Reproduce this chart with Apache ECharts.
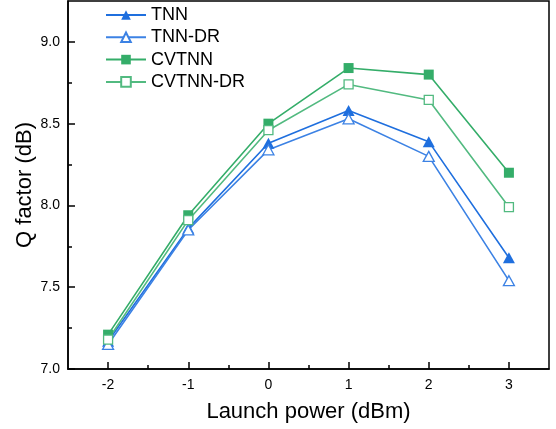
<!DOCTYPE html>
<html>
<head>
<meta charset="utf-8">
<script src="https://cdn.jsdelivr.net/npm/echarts@6/dist/echarts.min.js"></script>
<style>html,body{margin:0;padding:0;background:#fff}#c{width:556px;height:429px}</style>
</head>
<body>
<div id="c"></div>
<script>
const launchPower = [-2, -1, 0, 1, 2, 3];
const tnn      = [7.17, 7.86, 8.38, 8.58, 8.39, 7.68];
const tnnDR    = [7.15, 7.85, 8.34, 8.53, 8.30, 7.54];
const cvtnn    = [7.21, 7.94, 8.50, 8.84, 8.80, 8.20];
const cvtnnDR  = [7.18, 7.91, 8.46, 8.74, 8.645, 7.99];
const xMajor = [-2, -1, 0, 1, 2, 3];
const xMinor = [-1.5, -0.5, 0.5, 1.5, 2.5];
const yMajor = [7.0, 7.5, 8.0, 8.5, 9.0];
const yMinor = [7.25, 7.75, 8.25, 8.75];

const BLUE = '#1F6FDE', BLUE2 = '#3C82E4', GREEN = '#34AD69', GREEN2 = '#52BA80';
const FONT = 'Liberation Sans, Arial, sans-serif';
const pair = (ys) => launchPower.map((x, i) => [x, ys[i]]);

const chart = echarts.init(document.getElementById('c'), null, {renderer: 'canvas'});
const xBase = {type: 'value', min: -2.5, max: 3.5, splitLine: {show: false}};
const yBase = {type: 'value', min: 7.0, max: 9.25, splitLine: {show: false}};
const tickAxis = (base, pos, vals, len) => Object.assign({}, base, {
  position: pos,
  axisLine: {show: false, onZero: false},
  axisTick: {show: true, inside: true, length: len, customValues: vals, lineStyle: {color: '#000', width: 1.5}},
  axisLabel: {show: false}
});
chart.setOption({
  animation: false,
  backgroundColor: '#fff',
  grid: {left: 68, right: 7, top: 1, bottom: 60, show: true, borderColor: '#000', borderWidth: 1.5, backgroundColor: 'transparent'},
  legend: {
    orient: 'vertical', left: 105, top: 6, padding: 0, itemWidth: 40, itemHeight: 12, itemGap: 4.3,
    textStyle: {fontFamily: FONT, fontSize: 18, color: '#000', lineHeight: 18},
    data: ['TNN', 'TNN-DR', 'CVTNN', 'CVTNN-DR']
  },
  xAxis: [
    Object.assign({}, xBase, {
      name: 'Launch power (dBm)', nameLocation: 'middle', nameGap: 32, nameMoveOverlap: false,
      nameTextStyle: {fontFamily: FONT, fontSize: 22, color: '#000'},
      axisLine: {show: true, onZero: false, lineStyle: {color: '#000', width: 1.5}},
      axisTick: {show: false},
      axisLabel: {customValues: xMajor, margin: 9, fontFamily: FONT, fontSize: 14, color: '#000', formatter: v => String(v)}
    }),
    tickAxis(xBase, 'bottom', xMajor, 7),
    tickAxis(xBase, 'bottom', xMinor, 4)
  ],
  yAxis: [
    Object.assign({}, yBase, {
      name: 'Q factor (dB)', nameLocation: 'middle', nameGap: 32, nameMoveOverlap: false,
      nameTextStyle: {fontFamily: FONT, fontSize: 22, color: '#000'},
      axisLine: {show: true, onZero: false, lineStyle: {color: '#000', width: 1.5}},
      axisTick: {show: false},
      axisLabel: {customValues: yMajor, margin: 8, fontFamily: FONT, fontSize: 14, color: '#000', formatter: v => v.toFixed(1)}
    }),
    tickAxis(yBase, 'left', yMajor, 7),
    tickAxis(yBase, 'left', yMinor, 4)
  ],
  series: [
    {name: 'TNN', type: 'line', data: pair(tnn), symbol: 'triangle', symbolSize: [12, 11],
     lineStyle: {color: BLUE, width: 1.6}, itemStyle: {color: BLUE, borderColor: BLUE, borderWidth: 0}, z: 3},
    {name: 'TNN-DR', type: 'line', data: pair(tnnDR), symbol: 'triangle', symbolSize: [11, 10],
     lineStyle: {color: BLUE2, width: 1.6}, itemStyle: {color: '#fff', borderColor: BLUE2, borderWidth: 1.3}, z: 3},
    {name: 'CVTNN', type: 'line', data: pair(cvtnn), symbol: 'rect', symbolSize: 10,
     lineStyle: {color: GREEN, width: 1.6}, itemStyle: {color: GREEN, borderColor: GREEN, borderWidth: 0}, z: 3},
    {name: 'CVTNN-DR', type: 'line', data: pair(cvtnnDR), symbol: 'rect', symbolSize: 9,
     lineStyle: {color: GREEN2, width: 1.6}, itemStyle: {color: '#fff', borderColor: GREEN2, borderWidth: 1.3}, z: 3}
  ]
});
</script>
</body>
</html>
